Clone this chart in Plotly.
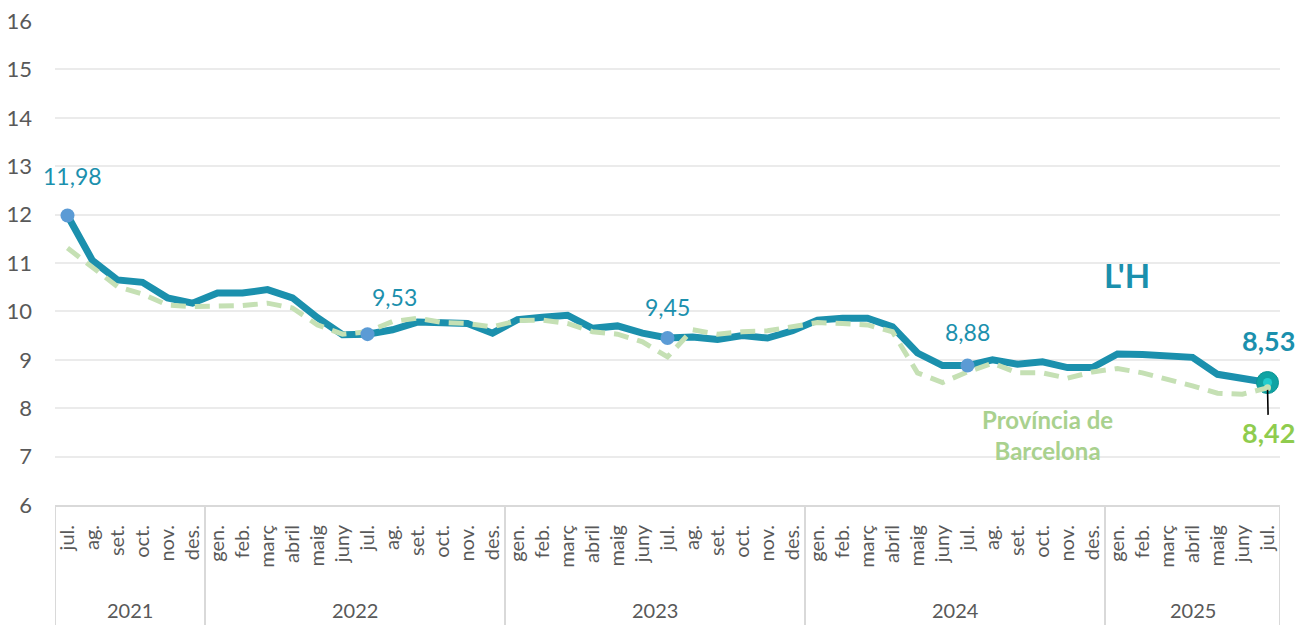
import plotly.graph_objects as go

# ---------------- data ----------------
years = ["2021", "2022", "2023", "2024", "2025"]
months_full = ["gen.", "feb.", "març", "abril", "maig", "juny",
               "jul.", "ag.", "set.", "oct.", "nov.", "des."]
months_2021 = ["jul.", "ag.", "set.", "oct.", "nov.", "des."]
months_2025 = ["gen.", "feb.", "març", "abril", "maig", "juny", "jul."]

month_labels = months_2021 + months_full * 3 + months_2025
months_per_year = [len(months_2021), 12, 12, 12, len(months_2025)]

lh_values = [
    11.98, 11.05, 10.65, 10.60, 10.28, 10.17,                              # 2021
    10.38, 10.38, 10.45, 10.28, 9.87, 9.52, 9.53, 9.62, 9.78, 9.76, 9.75, 9.55,   # 2022
    9.83, 9.88, 9.92, 9.65, 9.70, 9.55, 9.45, 9.47, 9.42, 9.50, 9.45, 9.60,       # 2023
    9.82, 9.86, 9.86, 9.68, 9.14, 8.88, 8.88, 9.00, 8.91, 8.96, 8.84, 8.84,       # 2024
    9.12, 9.11, 9.08, 9.05, 8.70, 8.60, 8.53,                                     # 2025
]
bcn_values = [
    11.31, 10.90, 10.51, 10.36, 10.13, 10.10,
    10.12, 10.12, 10.17, 10.07, 9.72, 9.53, 9.58, 9.79, 9.86, 9.77, 9.75, 9.68,
    9.81, 9.82, 9.75, 9.58, 9.53, 9.37, 9.06, 9.62, 9.53, 9.58, 9.60, 9.68,
    9.77, 9.75, 9.72, 9.58, 8.73, 8.53, 8.75, 8.93, 8.73, 8.73, 8.62, 8.75,
    8.82, 8.73, 8.60, 8.46, 8.31, 8.29, 8.42,
]
highlight_idx = [0, 12, 24, 36]          # jul. of each year
y_ticks = list(range(6, 17))

# ---------------- style ----------------
FONT = "Lato"
TEAL = "#1b90ad"
GREEN_DASH = "#c5e0b4"
GREEN_TXT = "#a9d18e"
GREEN_BOLD = "#8fcc4e"
BLUE_DOT = "#5b9bd5"
GREY_TXT = "#595959"

x = list(range(len(month_labels)))
last = len(x) - 1

fig = go.Figure()

fig.add_trace(go.Scatter(
    x=x, y=lh_values, mode="lines",
    line=dict(color=TEAL, width=7), hoverinfo="skip", showlegend=False))

# end marker of L'H
fig.add_trace(go.Scatter(
    x=[x[last]], y=[lh_values[last]], mode="markers",
    marker=dict(size=22, color="#0fa3a3", line=dict(color="#0c9494", width=1)),
    hoverinfo="skip", showlegend=False))
fig.add_trace(go.Scatter(
    x=[x[last]], y=[lh_values[last]], mode="markers",
    marker=dict(size=9, color="#22cccc"),
    hoverinfo="skip", showlegend=False))

fig.add_trace(go.Scatter(
    x=x, y=bcn_values, mode="lines",
    line=dict(color=GREEN_DASH, width=5, dash="15px,9px"),
    hoverinfo="skip", showlegend=False))
fig.add_trace(go.Scatter(
    x=[x[last]], y=[bcn_values[last]], mode="markers",
    marker=dict(size=7, color=GREEN_DASH),
    hoverinfo="skip", showlegend=False))

fig.add_trace(go.Scatter(
    x=[x[i] for i in highlight_idx], y=[lh_values[i] for i in highlight_idx],
    mode="markers", marker=dict(size=14, color=BLUE_DOT),
    hoverinfo="skip", showlegend=False))


def fmt(v):
    return f"{v:.2f}".replace(".", ",")


annotations = []
label_shifts = {0: (5, 40), 12: (27, 37), 24: (0, 31), 36: (0, 34)}
for i in highlight_idx:
    xs, ys = label_shifts[i]
    annotations.append(dict(
        x=x[i], y=lh_values[i], xref="x", yref="y", text=fmt(lh_values[i]),
        showarrow=False, xshift=xs, yshift=ys,
        font=dict(family=FONT, size=23, color=TEAL)))

annotations.append(dict(
    x=x[last], y=lh_values[last], xref="x", yref="y",
    text="<b>" + fmt(lh_values[last]) + "</b>", showarrow=False,
    xshift=1, yshift=42, font=dict(family=FONT, size=27, color=TEAL)))

annotations.append(dict(
    x=x[last], y=bcn_values[last], xref="x", yref="y",
    text="<b>" + fmt(bcn_values[last]) + "</b>", showarrow=True,
    ax=1, ay=45, arrowhead=0, arrowwidth=1.6, arrowcolor="#000000",
    standoff=2, font=dict(family=FONT, size=27, color=GREEN_BOLD)))

annotations.append(dict(
    x=42.36, y=10.75, xref="x", yref="y", text="<b>L'H</b>",
    showarrow=False, font=dict(family=FONT, size=33, color=TEAL)))

annotations.append(dict(
    x=39.2, y=7.45, xref="x", yref="y", text="<b>Província de<br>Barcelona</b>",
    showarrow=False, align="center",
    font=dict(family=FONT, size=24, color=GREEN_TXT)))

# year group separators and labels
shapes = []
start = 0
bounds = [-0.5]
for yr, n in zip(years, months_per_year):
    end = start + n
    bounds.append(end - 0.5)
    annotations.append(dict(
        x=(start + end - 1) / 2, y=-0.217, xref="x", yref="paper",
        text=yr, showarrow=False, yanchor="middle",
        font=dict(family=FONT, size=20, color=GREY_TXT)))
    start = end
for b in bounds:
    shapes.append(dict(type="line", xref="x", yref="paper",
                       x0=b, x1=b, y0=0, y1=-0.25,
                       line=dict(color="#d9d9d9", width=2)))

fig.update_layout(
    width=1306, height=625,
    margin=dict(l=55, r=26, t=21, b=120, autoexpand=False),
    paper_bgcolor="white", plot_bgcolor="white",
    showlegend=False,
    annotations=annotations, shapes=shapes,
    font=dict(family=FONT, color=GREY_TXT),
)
fig.update_xaxes(
    range=[-0.5, last + 0.5], tickmode="array", tickvals=x, ticktext=month_labels,
    tickangle=-90, ticks="", ticklabelstandoff=10, automargin=False,
    tickfont=dict(family=FONT, size=20, color=GREY_TXT),
    showgrid=False, zeroline=False,
    showline=True, linecolor="#d9d9d9", linewidth=2,
)
fig.update_yaxes(
    range=[6, 16], tickmode="array", tickvals=y_ticks,
    ticktext=[str(v) for v in y_ticks], ticks="", ticklabelstandoff=22,
    automargin=False,
    tickfont=dict(family=FONT, size=22, color=GREY_TXT),
    showgrid=True, gridcolor="#ebebeb", gridwidth=2, zeroline=False,
    showline=False,
)

fig.write_html(
    "out.html",
    config={"displayModeBar": False},
    post_script="document.body.style.margin='0';document.body.style.padding='0';"
                "document.body.style.overflow='hidden';",
)
